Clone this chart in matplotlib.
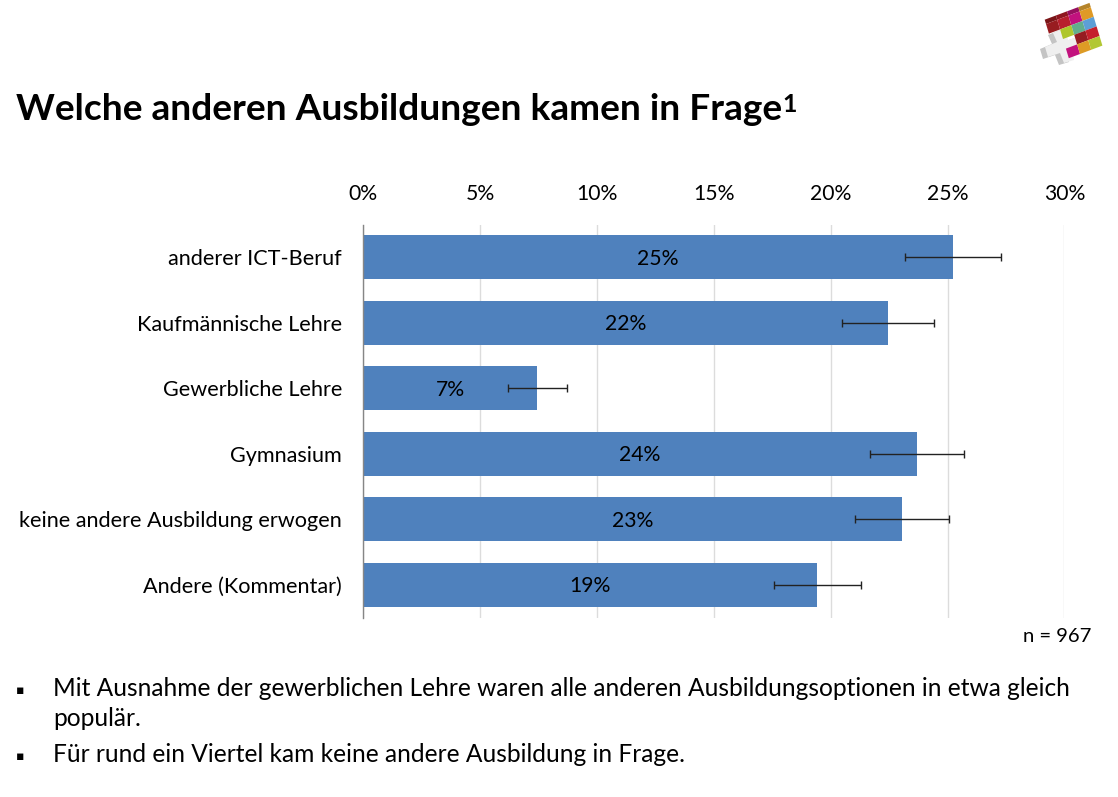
import matplotlib
matplotlib.use('Agg')
import matplotlib.pyplot as plt
from matplotlib.patches import Polygon

plt.rcParams['font.family'] = ['Lato', 'DejaVu Sans']

W, H = 1118, 797

categories = ['anderer ICT-Beruf', 'Kaufmännische Lehre', 'Gewerbliche Lehre',
              'Gymnasium', 'keine andere Ausbildung erwogen', 'Andere (Kommentar)']
values = [25.25, 22.45, 7.45, 23.7, 23.05, 19.43]
errors = [2.05, 1.97, 1.26, 2.0, 1.99, 1.86]
value_labels = ['25%', '22%', '7%', '24%', '23%', '19%']
ticks = [0, 5, 10, 15, 20, 25, 30]

# logo cells: (column, row, colour)
logo_cells = [
    (0, 0, '#981c20'), (1, 0, '#b81f2d'), (2, 0, '#c2127e'), (3, 0, '#df9a26'),
    (1, 1, '#aec62c'), (2, 1, '#62ae8c'), (3, 1, '#5d9fd6'),
    (2, 2, '#951c22'), (3, 2, '#c5202c'),
    (1, 3, '#c2127e'), (2, 3, '#dd9b25'), (3, 3, '#b2c733'),
]
# logo top edge, darker than the cells below it
logo_top = ['#7a1518', '#8f161f', '#96105f', '#b5842a']
logo_cross = [(1053, 33), (1065, 28), (1068, 40), (1080, 36), (1083, 43), (1072, 48), (1074, 60),
              (1064, 63), (1060, 53), (1048, 57), (1045, 47), (1057, 42)]


def fx(px):
    return px / W


def fy(py):
    return 1 - py / H


def logo_pt(c, r):
    return (fx(1046 + c * 11.2 + r * 2.9), fy(24 - c * 4.2 + r * 9.6))


fig = plt.figure(figsize=(W / 100, H / 100), dpi=100)
ax = fig.add_axes((fx(363), fy(617.5), fx(1064.5) - fx(363), fy(224.5) - fy(617.5)))

pos = list(range(len(categories)))
ax.barh(pos, values, height=0.665, color='#4f81bd', zorder=2)
ax.errorbar(values, pos, xerr=errors, fmt='none', ecolor='#222222',
            elinewidth=1.0, capsize=3, capthick=1.0, zorder=3)
for i, lab in enumerate(value_labels):
    ax.text(values[i] / 2, i + 0.02, lab, ha='center', va='center', fontsize=15.2,
            color='black', zorder=4)

ax.set_xlim(0, 30)
ax.set_ylim(len(categories) - 0.5, -0.5)
ax.xaxis.tick_top()
ax.set_xticks(ticks)
ax.set_xticklabels(['{}%'.format(t) for t in ticks], fontsize=15.2)
ax.set_yticks(pos)
ax.set_yticklabels(categories, fontsize=15.55)
ax.tick_params(axis='x', length=0, pad=15)
ax.tick_params(axis='y', length=0, pad=15)
ax.grid(axis='x', color='#dcdcdc', linewidth=1.0, zorder=0)
for s in ['top', 'right', 'bottom']:
    ax.spines[s].set_visible(False)
ax.spines['left'].set_color('#868686')
ax.spines['left'].set_linewidth(1.0)
ax.spines['left'].set_zorder(5)

fig.text(fx(1091), fy(636), 'n = 967', ha='right', va='center', fontsize=14.6)

# title with raised footnote mark
fig.text(fx(16), fy(109), 'Welche anderen Ausbildungen kamen in Frage', ha='left', va='center',
         fontsize=26.65, fontweight='bold')
fig.text(fx(782), fy(105), '1', ha='left', va='center', fontsize=18, fontweight='bold')

# bullets
for py in [691, 756]:
    fig.text(fx(16), fy(py), '▪', ha='left', va='center', fontsize=9, family=['DejaVu Sans'])
fig.text(fx(53), fy(689), 'Mit Ausnahme der gewerblichen Lehre waren alle anderen Ausbildungsoptionen in etwa gleich',
         ha='left', va='center', fontsize=17.65)
fig.text(fx(53), fy(718), 'populär.', ha='left', va='center', fontsize=17.65)
fig.text(fx(53), fy(755), 'Für rund ein Viertel kam keine andere Ausbildung in Frage.',
         ha='left', va='center', fontsize=17.65)

# logo, a tilted block of coloured squares with a white cross
fig.add_artist(Polygon([(fx(x - 5), fy(y + 2)) for x, y in logo_cross], closed=True,
                       transform=fig.transFigure, facecolor='#c4c4c4', edgecolor='none'))
fig.add_artist(Polygon([(fx(x), fy(y)) for x, y in logo_cross], closed=True,
                       transform=fig.transFigure, facecolor='#efefef', edgecolor='none'))
for c, col in enumerate(logo_top):
    pts = [logo_pt(c, -0.45), logo_pt(c + 1, -0.45), logo_pt(c + 1, 0), logo_pt(c, 0)]
    fig.add_artist(Polygon(pts, closed=True, transform=fig.transFigure, facecolor=col, edgecolor='none'))
for c, r, col in logo_cells:
    pts = [logo_pt(c, r), logo_pt(c + 1, r), logo_pt(c + 1, r + 1), logo_pt(c, r + 1)]
    fig.add_artist(Polygon(pts, closed=True, transform=fig.transFigure, facecolor=col, edgecolor='none'))

fig.savefig('out.png', dpi=100)
